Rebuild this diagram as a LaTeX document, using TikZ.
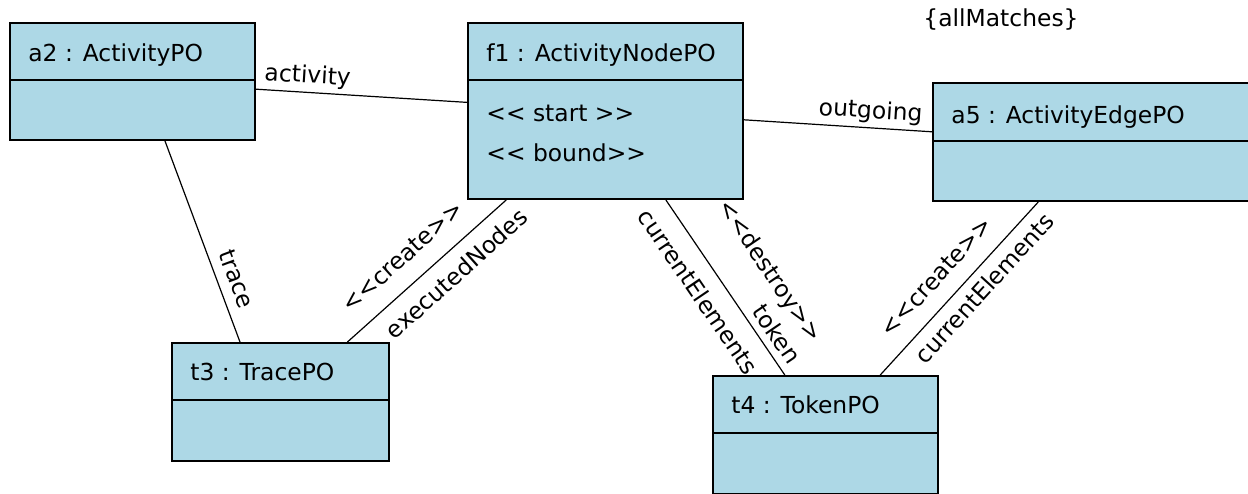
\documentclass[tikz,border=0pt]{standalone}
\usepackage{fontspec}
\setmainfont{DejaVu Sans}[Ligatures=TeXOff]
\usepackage{xcolor}
\usepackage{tikz}
\definecolor{poblue}{RGB}{173,216,230}

\begin{document}
\begin{tikzpicture}[x=0.5pt,y=-0.5pt,
  every node/.style={font=\fontsize{11.7}{14}\selectfont},
  obj/.style={rectangle,draw,line width=1pt,fill=poblue,inner sep=0pt},
  sep/.style={line width=1pt},
  title/.style={anchor=base west,inner sep=0pt},
  link/.style={line width=0.6pt},
  lbl/.style={sloped,inner sep=1pt}]
\useasboundingbox (0,0) rectangle (1248,493);
\node (a2) at (132.5,81.5) [obj,minimum width=122.5pt,minimum height=58.5pt] {};
\node (f1) at (605.5,111) [obj,minimum width=137.5pt,minimum height=88pt] {};
\node (a5) at (1093,142) [obj,minimum width=160pt,minimum height=59pt] {};
\node (t3) at (280.5,402) [obj,minimum width=108.5pt,minimum height=59pt] {};
\node (t4) at (825.5,435) [obj,minimum width=112.5pt,minimum height=59pt] {};
\draw[sep] ([yshift=-29pt]a2.north west) -- ([yshift=-29pt]a2.north east);
\draw[sep] ([yshift=-29pt]f1.north west) -- ([yshift=-29pt]f1.north east);
\draw[sep] ([yshift=-29.5pt]a5.north west) -- ([yshift=-29.5pt]a5.north east);
\draw[sep] ([yshift=-29pt]t3.north west) -- ([yshift=-29pt]t3.north east);
\draw[sep] ([yshift=-29pt]t4.north west) -- ([yshift=-29pt]t4.north east);
\node (a2t) at ([xshift=9.5pt,yshift=-19.5pt]a2.north west) [title] {a2 : ActivityPO};
\node (f1t) at ([xshift=9.5pt,yshift=-19.5pt]f1.north west) [title] {f1 : ActivityNodePO};
\node (f1s) at ([xshift=9.5pt,yshift=-49.5pt]f1.north west) [title] {<< start >>};
\node (f1b) at ([xshift=9.5pt,yshift=-69.5pt]f1.north west) [title] {<< bound>>};
\node (a5t) at ([xshift=9.5pt,yshift=-20.5pt]a5.north west) [title] {a5 : ActivityEdgePO};
\node (t3t) at ([xshift=9.5pt,yshift=-19pt]t3.north west) [title] {t3 : TracePO};
\node (t4t) at ([xshift=9.5pt,yshift=-19pt]t4.north west) [title] {t4 : TokenPO};
\node (all) at (1001,20) {\{allMatches\}};
\draw[link] (a2) -- node[lbl,above=1pt,pos=0.24] {activity} (f1);
\draw[link] (f1) -- node[lbl,above=1pt,pos=0.668] {outgoing} (a5);
\draw[link] ([xshift=16.25pt]a2.south) -- node[lbl,above=4pt,pos=0.72] {trace} ([xshift=-20.25pt]t3.north);
\draw[link] (t3) -- node[lbl,above=8pt,pos=0.459] {<<create>>} node[lbl,below=5pt,pos=0.596] {executedNodes} (f1);
\draw[link] (f1) -- node[lbl,below=6.5pt,pos=0.445] {currentElements} node[lbl,above=15.7pt,pos=0.555] {<<destroy>>} node[lbl,above=2.6pt,pos=0.819] {token} (t4);
\draw[link] (t4) -- node[lbl,above=7pt,pos=0.4715] {<<create>>} node[lbl,below=3.2pt,pos=0.574] {currentElements} (a5);
\end{tikzpicture}
\end{document}
